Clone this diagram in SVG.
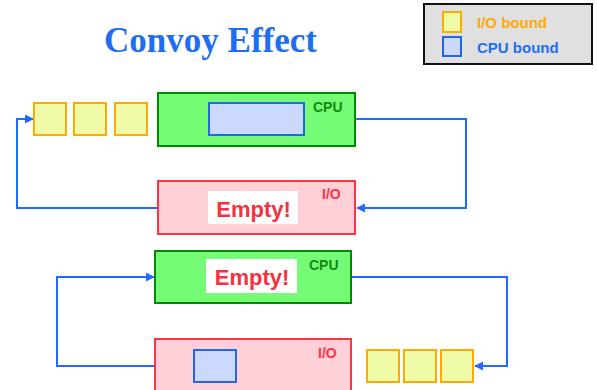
<svg xmlns="http://www.w3.org/2000/svg" width="597" height="390" viewBox="0 0 597 390">
  <style>
    .title { font-family: "Liberation Serif", "Times New Roman", serif; font-weight: bold; font-size: 35px; fill: #1f6ef2; }
    .lbl { font-family: "Liberation Sans", Arial, sans-serif; font-weight: bold; }
    .io-job { fill: #f0fba8; stroke: #ffaa00; stroke-width: 2; }
    .cpu-job { fill: #ccd9ff; stroke: #2266ee; stroke-width: 2; }
    .cpu { fill: #75fb75; stroke: #008a00; stroke-width: 2; }
    .io { fill: #ffd0d8; stroke: #ff3344; stroke-width: 2; }
    .cpu-txt { font-size: 14px; fill: #108a10; }
    .io-txt { font-size: 14px; fill: #ff3344; }
    .empty-bg { fill: #ffffff; }
    .empty-txt { font-size: 22px; fill: #f5303f; }
    .wire { fill: none; stroke: #1e6cff; stroke-width: 2; marker-end: url(#head); }
  </style>
  <defs>
    <marker id="head" viewBox="0 0 10 10" refX="9" refY="5" markerWidth="4.5" markerHeight="4.5" orient="auto" markerUnits="strokeWidth">
      <path d="M0,0 L10,5 L0,10 z" fill="#1e6cff"/>
    </marker>
  </defs>

  <rect width="597" height="390" fill="#ffffff"/>

  <text class="title" x="210.5" y="52" text-anchor="middle">Convoy Effect</text>

  <!-- legend -->
  <g id="legend">
    <rect x="424" y="4" width="168" height="60" fill="#e0e0e0" stroke="#111111" stroke-width="2"/>
    <rect class="io-job" x="443" y="12" width="18" height="20"/>
    <rect class="cpu-job" x="443" y="37" width="18" height="19"/>
    <text class="lbl" x="477" y="28" font-size="15" fill="#ffaa00">I/O bound</text>
    <text class="lbl" x="477" y="53" font-size="15" fill="#1f6ef2">CPU bound</text>
  </g>

  <!-- connectors -->
  <g id="connectors">
    <polyline class="wire" points="355,119 466,119 466,208 357,208"/>
    <polyline class="wire" points="158,208 17,208 17,119 33,119"/>
    <polyline class="wire" points="155,366 57,366 57,277 154,277"/>
    <polyline class="wire" points="351,277 507,277 507,366 475,366"/>
  </g>

  <!-- first state -->
  <g id="io-queue-1">
    <rect class="io-job" x="34" y="103" width="32" height="32"/>
    <rect class="io-job" x="74" y="103" width="32" height="32"/>
    <rect class="io-job" x="115" y="103" width="32" height="32"/>
  </g>
  <g id="cpu-1">
    <rect class="cpu" x="158" y="93" width="197" height="53"/>
    <rect class="cpu-job" x="209" y="103" width="95" height="32"/>
    <text class="lbl cpu-txt" x="313" y="112">CPU</text>
  </g>
  <g id="io-1">
    <rect class="io" x="158" y="181" width="197" height="53"/>
    <rect class="empty-bg" x="208" y="191" width="90" height="33"/>
    <text class="lbl empty-txt" x="253.5" y="217" text-anchor="middle">Empty!</text>
    <text class="lbl io-txt" x="322" y="199">I/O</text>
  </g>

  <!-- second state -->
  <g id="cpu-2">
    <rect class="cpu" x="155" y="251" width="196" height="52"/>
    <rect class="empty-bg" x="206" y="259" width="91" height="34"/>
    <text class="lbl empty-txt" x="252" y="285" text-anchor="middle">Empty!</text>
    <text class="lbl cpu-txt" x="309" y="270">CPU</text>
  </g>
  <g id="io-2">
    <rect class="io" x="155" y="339" width="196" height="60"/>
    <rect class="cpu-job" x="194" y="350" width="42" height="32"/>
    <text class="lbl io-txt" x="318" y="358">I/O</text>
  </g>
  <g id="io-queue-2">
    <rect class="io-job" x="367" y="350" width="32" height="32"/>
    <rect class="io-job" x="404" y="350" width="32" height="32"/>
    <rect class="io-job" x="441" y="350" width="32" height="32"/>
  </g>
</svg>
